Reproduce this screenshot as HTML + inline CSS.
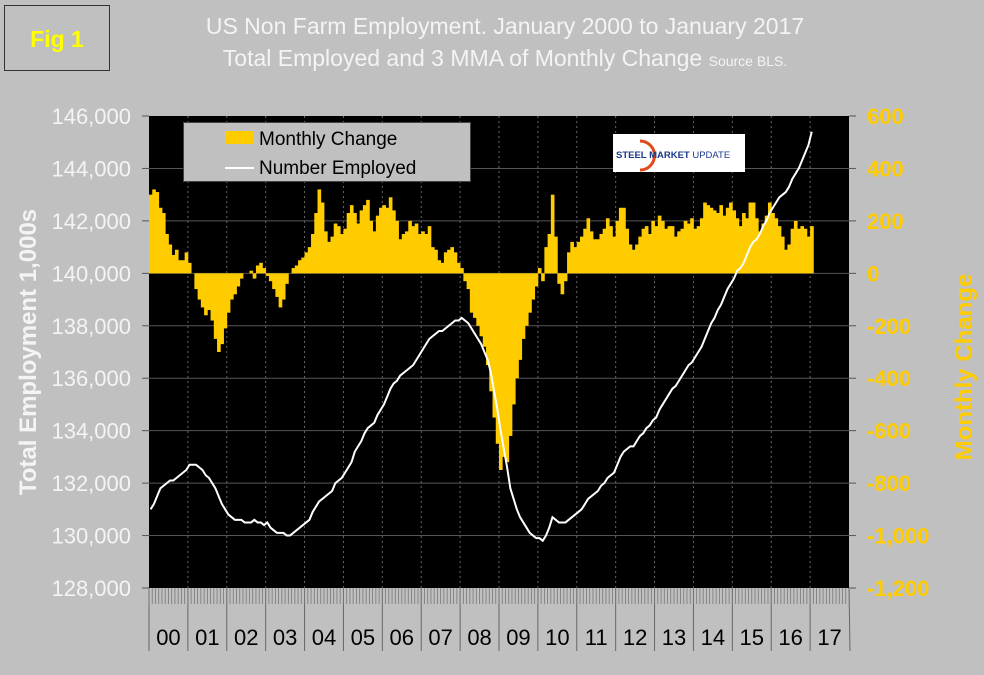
<!DOCTYPE html>
<html><head><meta charset="utf-8"><style>
body{margin:0;width:984px;height:670px;background:#c0c0c0;overflow:hidden;font-family:"Liberation Sans",sans-serif}
</style></head><body>
<svg width="984" height="670" xmlns="http://www.w3.org/2000/svg" style="font-family:'Liberation Sans',sans-serif">
<rect x="0" y="0" width="984" height="670" fill="#c0c0c0"/>
<rect x="4.5" y="5.5" width="105" height="65" fill="none" stroke="#333" stroke-width="1"/>
<text x="57" y="47" text-anchor="middle" font-size="23" font-weight="bold" fill="#ffff00">Fig 1</text>
<text x="505" y="34" text-anchor="middle" font-size="23" fill="#f4f4f4">US Non Farm Employment. January 2000 to January 2017</text>
<text x="505" y="66" text-anchor="middle" font-size="23" fill="#f4f4f4">Total Employed and 3 MMA of Monthly Change <tspan font-size="14">Source BLS.</tspan></text>
<rect x="149" y="116" width="700" height="472" fill="#000"/>
<g id="grid"></g><g id="bars"></g><g id="line"></g><g id="axes"></g>
<g>
<rect x="183.5" y="122.5" width="287" height="59" fill="#c0c0c0" stroke="#444"/>
<rect x="225" y="131" width="29" height="13" fill="#ffcc00"/>
<text x="259" y="145" font-size="19" fill="#000">Monthly Change</text>
<line x1="225" y1="168" x2="254" y2="168" stroke="#fff" stroke-width="2"/>
<text x="259" y="174" font-size="19" fill="#000">Number Employed</text>
</g>
<g>
<rect x="613" y="134" width="132" height="38" fill="#fff"/>
<path d="M640 141 A14 14 0 1 1 640 170" fill="none" stroke="#e04a1a" stroke-width="3"/>
<text x="616" y="158" font-size="9.5" font-weight="bold" fill="#1a3a8a">STEEL MARKET <tspan font-weight="normal">UPDATE</tspan></text>
</g>
<text transform="translate(36,352) rotate(-90)" text-anchor="middle" font-size="24" font-weight="bold" fill="#f4f4f4">Total Employment 1,000s</text>
<text transform="translate(972,367) rotate(-90)" text-anchor="middle" font-size="24" font-weight="bold" fill="#ffcc00">Monthly Change</text>
</svg>
<script>
const years=["00","01","02","03","04","05","06","07","08","09","10","11","12","13","14","15","16","17"];
const leftTicks=[128000,130000,132000,134000,136000,138000,140000,142000,144000,146000];
const rightTicks=[-1200,-1000,-800,-600,-400,-200,0,200,400,600];
const monthlyChange=[
300,320,310,250,230,150,110,70,90,50,50,80,
40,0,-60,-100,-130,-160,-140,-180,-250,-300,-270,-210,
-150,-100,-80,-50,-20,0,0,10,-20,30,40,20,
-10,-30,-60,-90,-130,-100,-40,0,20,30,50,60,
80,100,150,230,320,270,160,120,140,190,180,150,
170,230,260,230,190,240,260,280,200,160,220,250,
260,250,290,240,200,130,150,160,200,180,190,150,
160,150,180,100,90,50,40,80,90,100,80,40,
20,-30,-60,-150,-170,-200,-240,-280,-350,-450,-550,-650,
-750,-700,-720,-620,-500,-400,-330,-250,-200,-150,-100,-50,
20,-30,100,150,300,140,-40,-80,-30,80,120,100,
120,140,170,210,160,130,130,150,170,210,180,140,
200,250,250,170,110,90,110,140,170,180,150,200,
180,220,200,170,180,180,140,160,170,200,190,210,
170,180,210,270,260,250,240,230,260,220,250,270,
240,210,180,230,210,270,270,210,160,190,220,270,
230,210,180,140,90,110,170,200,170,180,170,140,
180];
const employed=[
131000,131200,131500,131800,131900,132000,132100,132100,132200,132300,132400,132500,
132700,132700,132700,132600,132500,132300,132200,132000,131800,131500,131200,131000,
130800,130700,130600,130600,130600,130500,130500,130500,130600,130500,130500,130400,
130500,130300,130200,130100,130100,130100,130000,130000,130100,130200,130300,130400,
130500,130600,130900,131100,131300,131400,131500,131600,131700,132000,132100,132200,
132400,132600,132800,133200,133400,133600,133900,134100,134200,134300,134600,134800,
135000,135300,135600,135800,135900,136100,136200,136300,136400,136500,136700,136900,
137100,137300,137500,137600,137700,137800,137800,137900,138000,138100,138200,138200,
138300,138200,138100,137900,137700,137500,137300,137000,136700,136200,135500,134800,
134000,133300,132600,131800,131400,131000,130700,130500,130300,130100,130000,129900,
129900,129800,130000,130300,130700,130600,130500,130500,130500,130600,130700,130800,
130900,131000,131200,131400,131500,131600,131700,131900,132000,132200,132300,132400,
132700,133000,133200,133300,133400,133400,133600,133800,133900,134100,134200,134400,
134500,134800,135000,135200,135400,135600,135700,135900,136100,136300,136500,136600,
136800,137000,137200,137500,137800,138100,138300,138600,138800,139100,139400,139600,
139800,140100,140200,140400,140700,141000,141200,141300,141500,141800,142000,142300,
142500,142700,142900,143000,143100,143300,143600,143800,144000,144300,144600,144900,
145400];
const NS="http://www.w3.org/2000/svg";
const X0=149,X1=849,YT=116,YB=588,yearW=(X1-X0)/18,mW=yearW/12;
const xM=i=>X0+i*mW;
const yL=v=>YB-(v-128000)/(146000-128000)*(YB-YT);
const yR=v=>YB-(v+1200)/1800*(YB-YT);
function mk(tag,attrs,parent){const e=document.createElementNS(NS,tag);for(const k in attrs)e.setAttribute(k,attrs[k]);document.getElementById(parent).appendChild(e);return e;}
leftTicks.forEach(v=>{
 const y=yL(v);
 if(v>128000&&v<146000){const g=mk('line',{x1:X0,x2:X1,y1:y,y2:y,stroke:'#555','stroke-width':1},'grid');
 
 }
 const t=mk('line',{x1:X0-7,x2:X0,y1:y,y2:y,stroke:'#555'},'axes');
 
 
 const l=mk('text',{x:131,y:y+8,'text-anchor':'end','font-size':22,fill:'#f4f4f4'},'axes');
 l.textContent=v.toLocaleString('en-US');
 
 
});
rightTicks.forEach(v=>{
 const y=yR(v);
 const t=mk('line',{x1:X1,x2:X1+7,y1:y,y2:y,stroke:'#555'},'axes');
 
 
 const l=mk('text',{x:867,y:y+8,'font-size':22,'font-weight':'bold',fill:'#ffcc00'},'axes');
 l.textContent=v.toLocaleString('en-US');
 
 
});
years.forEach((yr,i)=>{
 const x=X0+i*yearW;
 if(i>0){const g=mk('line',{x1:x,x2:x,y1:YT,y2:YB,stroke:'#666','stroke-dasharray':'2,3'},'grid');
 
 }
 const t=mk('line',{x1:x,x2:x,y1:YB,y2:651,stroke:'#666'},'axes');
 
 
 const l=mk('text',{x:x+yearW/2,y:645,'text-anchor':'middle','font-size':22,fill:'#000'},'axes');
 l.textContent=yr;
 
 
});
for(let i=0;i<18*12;i++){const x=xM(i);const t=mk('line',{x1:x,x2:x,y1:YB,y2:604,stroke:'#777','stroke-width':0.8},'axes');
 
 }
const mt=mk('line',{x1:X1,x2:X1+1,y1:YB,y2:651,stroke:'#666'},'axes');
const y0=yR(0);
monthlyChange.forEach((v,i)=>{
 const y=yR(v);
 const r=mk('rect',{x:xM(i),y:Math.min(y,y0),width:mW+0.4,height:Math.abs(y-y0),fill:'#ffcc00'},'bars');
 
 
});
const p=mk('polyline',{points:employed.map((v,i)=>(xM(i)+mW/2)+','+yL(v)).join(' '),fill:'none',stroke:'#fff','stroke-width':2},'line');


</script>
</body></html>
